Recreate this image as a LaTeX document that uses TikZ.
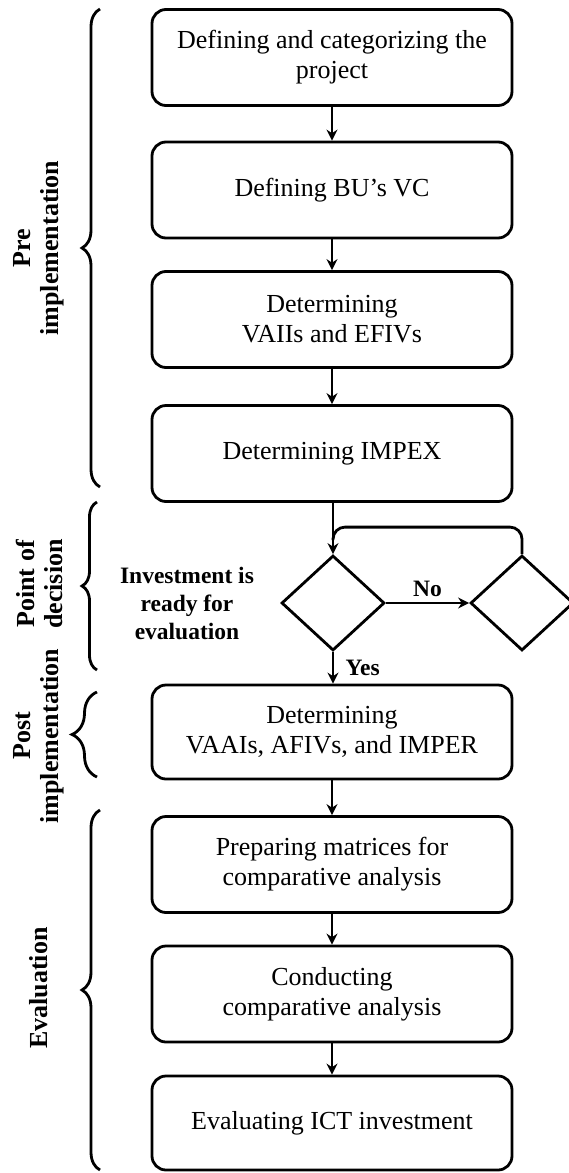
\documentclass[tikz,border=0pt]{standalone}
\usepackage{fontspec}
\setmainfont{Liberation Serif}
\usetikzlibrary{arrows.meta,shapes.geometric,decorations.pathreplacing,calc}

\begin{document}
\begin{tikzpicture}[x=1pt,y=-1pt,
  box/.style={draw,rounded corners=14pt,line width=2.8pt,minimum width=360pt,
              minimum height=96pt,align=center,font=\fontsize{26}{30}\selectfont},
  dec/.style={draw,diamond,line width=2.8pt,minimum width=103pt,
              minimum height=95pt,inner sep=0pt},
  arr/.style={-{Stealth[length=11pt,width=11pt]},line width=2.8pt},
  brc/.style={decorate,decoration={brace,amplitude=#1},line width=2.8pt},
  brc/.default=18pt,
  phase/.style={rotate=90,align=center,font=\fontsize{26}{28}\bfseries\selectfont},
  lbl/.style={align=center,font=\fontsize{23.5}{28}\bfseries\selectfont}]
\clip (0,0) rectangle (569,1173);
% process steps
\node[box] (def) at (332,57.5) {Defining and categorizing the\\project};
\node[box] (vc) at (332,190) {Defining BU’s VC};
\node[box] (vaii) at (332,319.5) {Determining\\VAIIs and EFIVs};
\node[box] (impex) at (332,453.5) {Determining IMPEX};
\node[dec] (ready) at (333,603) {};
\node[dec] (wait) at (522,603) {};
\node[lbl] (q) at (187,603) {Investment is\\ready for\\evaluation};
\node[box,minimum height=94pt] (vaai) at (332,732) {Determining\\VAAIs, AFIVs, and IMPER};
\node[box] (prep) at (332,864.5) {Preparing matrices for\\comparative analysis};
\node[box] (cond) at (332,994) {Conducting\\comparative analysis};
\node[box,minimum height=94pt] (ict) at (332,1123) {Evaluating ICT investment};
% connectors
\draw[arr] (def)--(vc);
\draw[arr] (vc)--(vaii);
\draw[arr] (vaii)--(impex);
\draw[arr] (impex.south-|ready.north)--(ready.north);
\draw[arr] (ready.east)--(wait.west) node[lbl,midway,above=2pt] (no) {No};
\draw[line width=2.8pt,rounded corners=12pt] (wait.north)--++(0,-27)-|($(ready.north)+(0,-14)$);
\draw[arr] (ready.south)--(vaai.north-|ready.south) node[lbl,midway,right=8pt] (yes) {Yes};
\draw[arr] (vaai)--(prep);
\draw[arr] (prep)--(cond);
\draw[arr] (cond)--(ict);
% phases
\draw[brc] (100,487)--(100,9);
\node[phase] (pre) at (39,248) {Pre\\implementation};
\draw[brc=15pt] (97,670)--(97,502);
\node[phase] (pod) at (39,584) {Point of\\decision};
\draw[brc=25pt] (97,777)--(97,692);
\node[phase] (post) at (39,736) {Post\\implementation};
\draw[brc] (100,1170)--(100,810);
\node[phase] (eval) at (39,988) {Evaluation};
\end{tikzpicture}
\end{document}
